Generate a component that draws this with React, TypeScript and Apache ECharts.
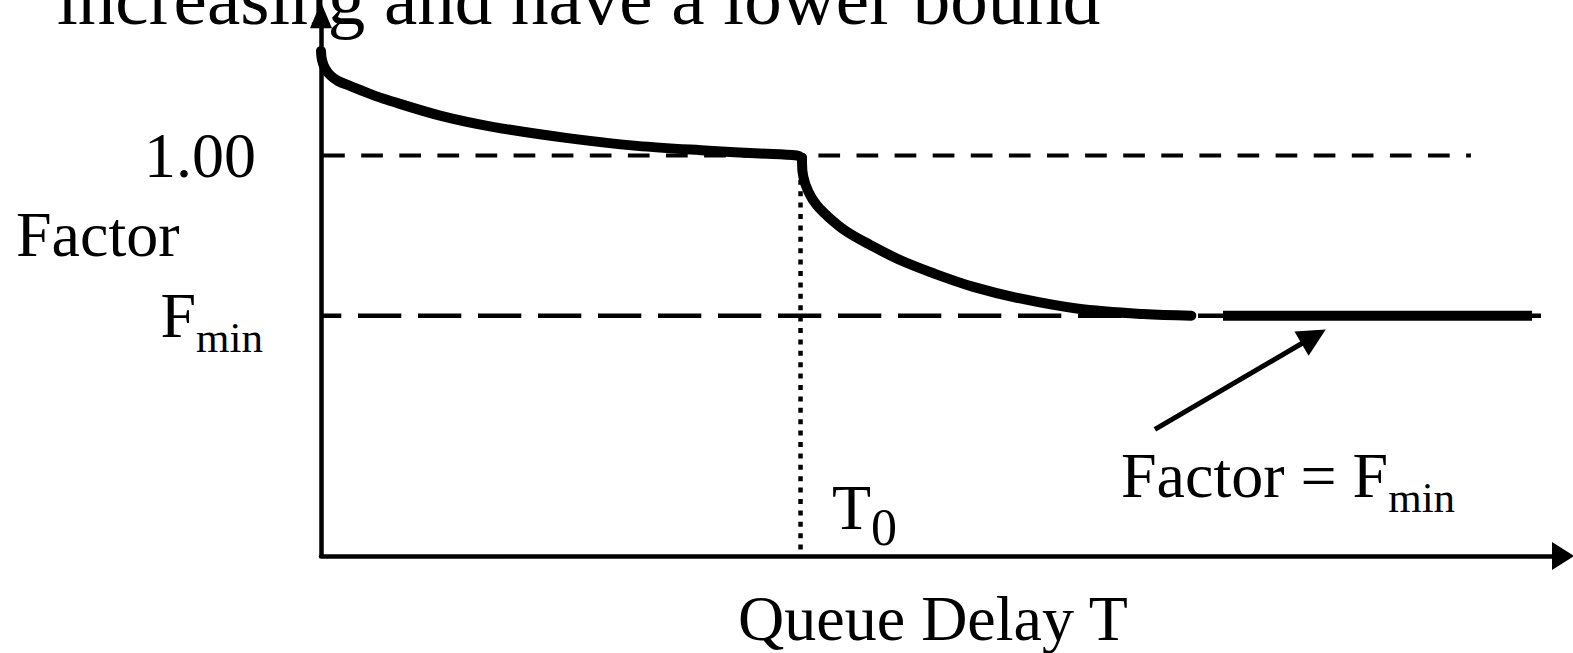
import React, { useEffect, useRef } from 'react';
import * as echarts from 'echarts';

const FONT = '"Liberation Serif", "Times New Roman", Times, serif';

// domain: T in units of T0, Factor
const T0 = 1.0;
const F_ONE = 1.0;
const F_MIN = 0.6;
const X_MAX = 2.59;
const Y_MAX = 1.35;

// factor curve, part before T0 (decreasing towards 1.00)
const curveAT = [0, 0.0021, 0.0083, 0.0188, 0.0355, 0.0605, 0.1022, 0.1376, 0.2503, 0.3608, 0.5109, 0.659, 0.8092, 0.9155, 0.9927, 1.0031];
const curveAF = [1.261, 1.238, 1.218, 1.201, 1.186, 1.174, 1.154, 1.139, 1.099, 1.071, 1.044, 1.024, 1.012, 1.005, 1.0, 0.994];
// factor curve, part after T0 (decreasing towards F_min)
const curveBT = [1.0031, 1.0031, 1.0058, 1.0163, 1.0338, 1.0615, 1.0964, 1.1449, 1.2075, 1.277, 1.3604, 1.4578, 1.576, 1.7149, 1.815];
const curveBF = [0.994, 0.981, 0.947, 0.91, 0.876, 0.843, 0.81, 0.777, 0.739, 0.706, 0.672, 0.643, 0.618, 0.604, 0.6];

// flat segment Factor = F_min
const floorT = [1.881, 2.5255];
// reference lines
const oneLineT = [0, 2.398];
const fminLineT = [0, 2.544];
const t0LineF = [0, 1.0];
// annotation arrow (from, to) in [T, Factor]
const arrowFrom = [1.739, 0.316];
const arrowTo = [2.07, 0.548];

const yLabelValues = [F_MIN, F_ONE];
const titleText = 'increasing and have a lower bound';
const yNameText = 'Factor';
const xNameText = 'Queue Delay T';

export default function App() {
  const ref = useRef<HTMLDivElement>(null);

  useEffect(() => {
    if (!ref.current) return;
    const chart = echarts.init(ref.current, null, { renderer: 'svg' });
    const black = '#000';

    const curveStyle = { color: black, width: 10, cap: 'round', join: 'round' };

    const option: any = {
      animation: false,
      backgroundColor: '#fff',
      textStyle: { fontFamily: FONT, color: black },
      grid: { left: 321, right: 10, top: 653 - 97 - Y_MAX * 400.5, bottom: 97, containLabel: false, outerBoundsMode: 'none' },
      xAxis: {
        type: 'value',
        min: 0,
        max: X_MAX,
        axisLine: {
          show: true,
          lineStyle: { color: black, width: 4.5 },
          symbol: ['none', 'triangle'],
          symbolSize: [28, 22],
        },
        axisTick: { show: false },
        axisLabel: { show: false },
        splitLine: { show: false },
      },
      yAxis: {
        type: 'value',
        min: 0,
        max: Y_MAX,
        axisLine: {
          show: true,
          lineStyle: { color: black, width: 4.5 },
          symbol: ['none', 'triangle'],
          symbolSize: [22, 26],
        },
        axisTick: { show: false },
        splitLine: { show: false },
        axisLabel: {
          show: true,
          customValues: yLabelValues,
          margin: 58,
          color: black,
          fontFamily: FONT,
          formatter: (v: number) => (Math.abs(v - F_ONE) < 1e-6 ? '{a|1.00}' : '{f|F}{s|min}'),
          rich: {
            a: { fontSize: 64, fontFamily: FONT, color: black, padding: [0, 7, 0, 0], lineHeight: 64 },
            f: { fontSize: 64, fontFamily: FONT, color: black, lineHeight: 64 },
            s: { fontSize: 43, fontFamily: FONT, color: black, lineHeight: 20, padding: [44, 0, 0, 0], verticalAlign: 'middle' },
          },
        },
      },
      series: [
        {
          type: 'line',
          name: 'one',
          data: oneLineT.map((t) => [t, F_ONE]),
          showSymbol: false,
          silent: true,
          z: 2,
          lineStyle: { color: black, width: 4, type: [21.7, 16.4], dashOffset: 36.1, cap: 'butt' },
        },
        {
          type: 'line',
          name: 'fmin',
          data: fminLineT.map((t) => [t, F_MIN]),
          showSymbol: false,
          silent: true,
          z: 2,
          lineStyle: { color: black, width: 4.5, type: [43.3, 16.7], dashOffset: 22.7, cap: 'butt' },
        },
        {
          type: 'line',
          name: 't0',
          data: t0LineF.map((f) => [T0, f]),
          showSymbol: false,
          silent: true,
          z: 2,
          lineStyle: { color: black, width: 4.5, type: [5, 6.4], dashOffset: 5, cap: 'butt' },
        },
        {
          type: 'line',
          name: 'factorA',
          data: curveAT.map((t, i) => [t, curveAF[i]]),
          showSymbol: false,
          silent: true,
          smooth: 0.35,
          z: 3,
          lineStyle: curveStyle,
        },
        {
          type: 'line',
          name: 'factorB',
          data: curveBT.map((t, i) => [t, curveBF[i]]),
          showSymbol: false,
          silent: true,
          smooth: 0.35,
          z: 3,
          lineStyle: curveStyle,
        },
        {
          type: 'line',
          name: 'floor',
          data: floorT.map((t) => [t, F_MIN]),
          showSymbol: false,
          silent: true,
          z: 3,
          lineStyle: { color: black, width: 10, cap: 'butt' },
          markLine: {
            silent: true,
            symbol: ['none', 'triangle'],
            symbolSize: 28,
            label: { show: false },
            lineStyle: { color: black, width: 5, type: 'solid' },
            emphasis: { disabled: true },
            data: [[{ coord: arrowFrom }, { coord: arrowTo }]],
          },
        },
      ],
      graphic: [
        {
          type: 'text',
          x: 57,
          y: -2,
          silent: true,
          style: { text: titleText, fontSize: 75, fontFamily: FONT, fill: black, align: 'left', verticalAlign: 'middle', textAlign: 'left', textVerticalAlign: 'middle' },
        },
        {
          type: 'text',
          x: 16,
          y: 234.5,
          silent: true,
          style: { text: yNameText, fontSize: 64, fontFamily: FONT, fill: black, align: 'left', verticalAlign: 'middle', textAlign: 'left', textVerticalAlign: 'middle' },
        },
        {
          type: 'text',
          x: 933,
          y: 618,
          silent: true,
          style: { text: xNameText, fontSize: 64, fontFamily: FONT, fill: black, align: 'center', verticalAlign: 'middle', textAlign: 'center', textVerticalAlign: 'middle' },
        },
        {
          type: 'text',
          x: 832,
          y: 507,
          silent: true,
          style: {
            text: '{t|T}{s|0}',
            fontFamily: FONT,
            fill: black,
            align: 'left',
            verticalAlign: 'middle',
            textAlign: 'left',
            textVerticalAlign: 'middle',
            rich: {
              t: { fontSize: 64, fontFamily: FONT, fill: black, lineHeight: 64 },
              s: { fontSize: 52, fontFamily: FONT, fill: black, lineHeight: 20, padding: [41, 0, 0, 0], verticalAlign: 'middle' },
            },
          },
        },
        {
          type: 'text',
          x: 1121,
          y: 475,
          silent: true,
          style: {
            text: '{f|Factor = F}{s|min}',
            fontFamily: FONT,
            fill: black,
            align: 'left',
            verticalAlign: 'middle',
            textAlign: 'left',
            textVerticalAlign: 'middle',
            rich: {
              f: { fontSize: 64, fontFamily: FONT, fill: black, lineHeight: 64 },
              s: { fontSize: 43, fontFamily: FONT, fill: black, lineHeight: 20, padding: [44, 0, 0, 0], verticalAlign: 'middle' },
            },
          },
        },
      ],
    };

    chart.setOption(option);
    return () => {
      chart.dispose();
    };
  }, []);

  return (
    <div
      ref={ref}
      style={{ position: 'fixed', left: 0, top: 0, width: 1573, height: 653, background: '#fff' }}
    />
  );
}
